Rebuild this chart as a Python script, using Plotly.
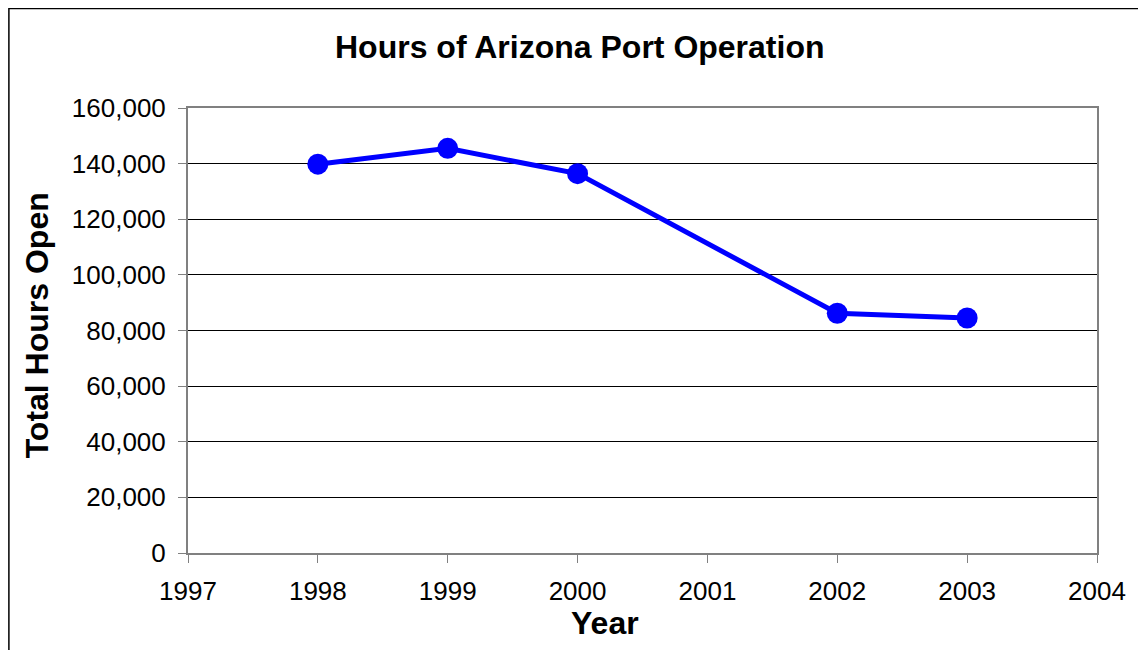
import plotly.graph_objects as go

years = [1998, 1999, 2000, 2002, 2003]
hours = [139800, 145500, 136400, 86200, 84500]
x_ticks = [1997, 1998, 1999, 2000, 2001, 2002, 2003, 2004]
y_ticks = [0, 20000, 40000, 60000, 80000, 100000, 120000, 140000, 160000]

# page body has an 8px margin; figure drawn at window offset (8, 8)
OFF = 8
W, H = 1146 - 2 * OFF, 658 - 2 * OFF
L, T = 188 - OFF, 108 - OFF
pw, ph = 1099 - 188, 553 - 108
R, B = W - L - pw, H - T - ph

font = "Liberation Sans, Arial, sans-serif"

fig = go.Figure()
fig.add_trace(go.Scatter(
    x=years, y=hours, mode="lines+markers",
    line=dict(color="#0000FF", width=5),
    marker=dict(color="#0000FF", size=21),
    showlegend=False,
))

axis_common = dict(showline=True, linecolor="#808080", linewidth=2, mirror=True,
                   ticks="outside", ticklen=8, tickcolor="#808080", tickwidth=1,
                   zeroline=False, tickfont=dict(size=26, family=font, color="black"))

fig.update_layout(
    width=W, height=H,
    margin=dict(l=L, r=R, t=T, b=B, pad=0),
    paper_bgcolor="white", plot_bgcolor="white",
    font=dict(family=font, size=26, color="black"),
    xaxis=dict(range=[1997, 2004], tickvals=x_ticks, ticktext=[str(v) for v in x_ticks],
               showgrid=False, ticklabelstandoff=6, **axis_common),
    yaxis=dict(range=[0, 160000], tickvals=y_ticks, tickformat=",",
               showgrid=True, gridcolor="black", gridwidth=1, ticklabelstandoff=7,
               **axis_common),
)

def px_x(x):
    return (x - OFF - L) / pw

def px_y(y):
    return 1 - (y - OFF - T) / ph

fig.add_annotation(text="<b>Hours of Arizona Port Operation</b>", xref="paper", yref="paper",
                   x=px_x(581), y=px_y(47), xanchor="center", yanchor="middle",
                   showarrow=False, font=dict(size=32, family=font, color="black"))
fig.add_annotation(text="<b>Year</b>", xref="paper", yref="paper",
                   x=px_x(606), y=px_y(623), xanchor="center", yanchor="middle",
                   showarrow=False, font=dict(size=32, family=font, color="black"))
fig.add_annotation(text="<b>Total Hours Open</b>", xref="paper", yref="paper",
                   x=px_x(37), y=px_y(325), xanchor="center", yanchor="middle",
                   textangle=-90, showarrow=False, font=dict(size=32, family=font, color="black"))

# outer chart border (extends past right and bottom edges)
fig.add_shape(type="rect", xref="paper", yref="paper",
              x0=px_x(8.5), x1=px_x(1160), y0=px_y(670), y1=px_y(8.5),
              line=dict(color="black", width=1.5), fillcolor="rgba(0,0,0,0)", layer="below")

fig.write_html("out.html")
